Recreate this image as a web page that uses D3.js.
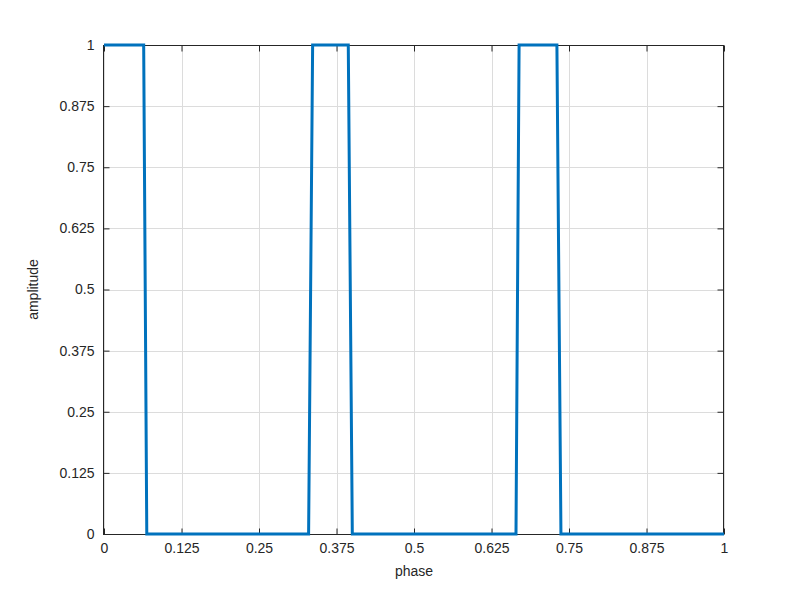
<!DOCTYPE html>
<html>
<head>
<meta charset="utf-8">
<script src="https://cdn.jsdelivr.net/npm/d3@7"></script>
<style>
  body { margin: 0; background: #fff; }
  svg { display: block; }
  text { font-family: "Liberation Sans", Arial, sans-serif; }
</style>
</head>
<body>
<svg id="chart" width="800" height="600"></svg>
<script>
// Data
const phase     = [0, 0.064, 0.069, 0.330, 0.3365, 0.394, 0.4005, 0.6645, 0.6695, 0.7305, 0.737, 1];
const amplitude = [1, 1,     0,     0,     1,      1,     0,      0,      1,      1,      0,     0];
const tickValues = [0, 0.125, 0.25, 0.375, 0.5, 0.625, 0.75, 0.875, 1];
const tickLabels = ["0", "0.125", "0.25", "0.375", "0.5", "0.625", "0.75", "0.875", "1"];
const xLabel = "phase";
const yLabel = "amplitude";

const svg = d3.select("#chart");
const L = 104, R = 724, T = 45, B = 534;
const x = d3.scaleLinear().domain([0, 1]).range([L, R]);
const y = d3.scaleLinear().domain([0, 1]).range([B, T]);
const axisColor = "#262626";
const fmt = (d) => tickLabels[tickValues.indexOf(d)];

// Grid
const grid = svg.append("g");
grid.selectAll("line.gx").data(tickValues).enter().append("line")
  .attr("x1", d => Math.round(x(d)) + 0.5).attr("x2", d => Math.round(x(d)) + 0.5)
  .attr("y1", T).attr("y2", B)
  .attr("stroke", "#dcdcdc").attr("stroke-width", 1);
grid.selectAll("line.gy").data(tickValues).enter().append("line")
  .attr("y1", d => Math.round(y(d)) + 0.5).attr("y2", d => Math.round(y(d)) + 0.5)
  .attr("x1", L).attr("x2", R)
  .attr("stroke", "#dcdcdc").attr("stroke-width", 1);

// Axes (ticks inside)
const tickLen = 6;
function styleAxis(g) {
  g.select(".domain").remove();
  g.selectAll(".tick line").attr("stroke", axisColor);
  g.selectAll(".tick text").attr("fill", axisColor).attr("font-size", 14);
}
svg.append("g").attr("transform", `translate(0,${B + 0.5})`)
  .call(d3.axisBottom(x).tickValues(tickValues).tickFormat(fmt).tickSizeInner(-tickLen).tickSizeOuter(0).tickPadding(9))
  .call(styleAxis);
svg.append("g").attr("transform", `translate(0,${T + 0.5})`)
  .call(d3.axisTop(x).tickValues(tickValues).tickFormat("").tickSizeInner(-tickLen).tickSizeOuter(0))
  .call(styleAxis);
svg.append("g").attr("transform", `translate(${L - 0.5},0)`)
  .call(d3.axisLeft(y).tickValues(tickValues).tickFormat(fmt).tickSizeInner(-tickLen).tickSizeOuter(0).tickPadding(9))
  .call(styleAxis);
svg.append("g").attr("transform", `translate(${R - 0.5},0)`)
  .call(d3.axisRight(y).tickValues(tickValues).tickFormat("").tickSizeInner(-tickLen).tickSizeOuter(0))
  .call(styleAxis);

// Box
svg.append("rect").attr("x", L - 0.5).attr("y", T + 0.5).attr("width", R - L).attr("height", B - T)
  .attr("fill", "none").attr("stroke", axisColor).attr("stroke-width", 1);

// Line
const data = phase.map((p, i) => [p, amplitude[i]]);
svg.append("path").datum(data)
  .attr("fill", "none").attr("stroke", "#0072BD").attr("stroke-width", 3)
  .attr("stroke-linejoin", "miter")
  .attr("d", d3.line().x(d => x(d[0])).y(d => y(d[1])));

// Labels
svg.append("text").attr("x", (L + R) / 2).attr("y", 576).attr("text-anchor", "middle")
  .attr("font-size", 14).attr("fill", axisColor).text(xLabel);
svg.append("text").attr("transform", `translate(38,${(T + B) / 2}) rotate(-90)`)
  .attr("text-anchor", "middle").attr("font-size", 14).attr("fill", axisColor).text(yLabel);
</script>
</body>
</html>
